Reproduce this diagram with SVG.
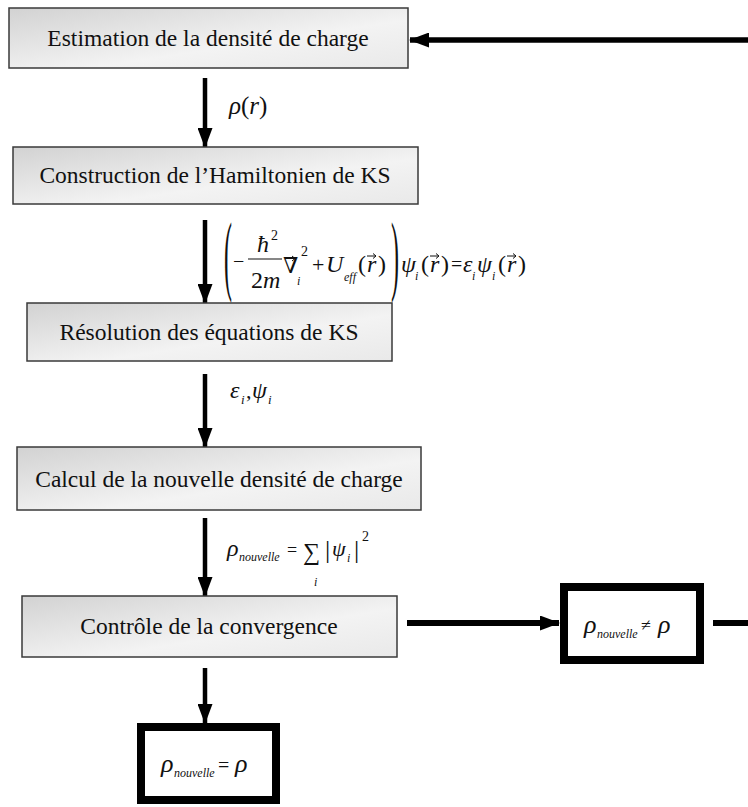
<svg xmlns="http://www.w3.org/2000/svg" width="748" height="807" viewBox="0 0 748 807">
<style>
.box{stroke:#3a3a3a;stroke-width:1.5;fill:url(#g)}
.tb{stroke:#000;stroke-width:8;fill:#fff}
.t{font-size:23.5px;fill:#111;text-anchor:middle}
.m{font-style:italic;fill:#111}
.u{fill:#111}
.c{stroke:#000;fill:none}
.v{stroke:#111;stroke-width:1;fill:none}
</style>
<defs>
<linearGradient id="g" x1="0" y1="0" x2="1" y2="1">
<stop offset="0" stop-color="#d2d2d2"/>
<stop offset="0.6" stop-color="#f3f3f3"/>
<stop offset="1" stop-color="#e9e9e9"/>
</linearGradient>
<marker id="ah" markerUnits="userSpaceOnUse" markerWidth="20" markerHeight="15" refX="19" refY="7.5" orient="auto">
<path d="M0,0 L20,7.5 L0,15 z" fill="#000"/>
</marker>
</defs>

<g font-family="'Liberation Serif', 'Times New Roman', Times, 'DejaVu Serif', 'Noto Serif', serif">
<g id="connectors">
<line class="c" x1="748" y1="40" x2="410" y2="40" stroke-width="5.5" marker-end="url(#ah)"/>
<line class="c" x1="205" y1="78" x2="205" y2="147" stroke-width="4.5" marker-end="url(#ah)"/>
<line class="c" x1="205" y1="220" x2="205" y2="303" stroke-width="4.5" marker-end="url(#ah)"/>
<line class="c" x1="205" y1="374" x2="205" y2="447" stroke-width="4.5" marker-end="url(#ah)"/>
<line class="c" x1="205" y1="518" x2="205" y2="596" stroke-width="4.5" marker-end="url(#ah)"/>
<line class="c" x1="407" y1="623" x2="559" y2="623" stroke-width="6" marker-end="url(#ah)"/>
<line class="c" x1="713" y1="623" x2="748" y2="623" stroke-width="6"/>
<line class="c" x1="205" y1="668" x2="205" y2="723" stroke-width="4.5" marker-end="url(#ah)"/>

<g id="lbl-rho">
<text class="m" x="229" y="114" font-size="25">ρ<tspan font-style="normal">(</tspan>r<tspan font-style="normal">)</tspan></text>
</g>

<g id="lbl-ks">
<text class="u" font-size="24" transform="translate(224,284) scale(1,3.74)">(</text>
<text class="u" x="233" y="268" font-size="20">−</text>
<text class="m" x="257" y="252" font-size="24">ħ</text>
<text class="u" x="271" y="240" font-size="14">2</text>
<line x1="248" y1="259" x2="282" y2="259" stroke="#111" stroke-width="1.2"/>
<text class="u" x="251" y="288" font-size="24">2<tspan font-style="italic">m</tspan></text>
<text class="u" x="283" y="273" font-size="22">∇</text>
<path class="v" d="M285,258.5 h10 M292,256 l3,2.5 l-3,2.5"/>
<text class="m" x="297" y="285" font-size="12">i</text>
<text class="u" x="301" y="256" font-size="14">2</text>
<text class="u" x="312" y="272" font-size="22">+</text>
<text class="m" x="326" y="272" font-size="24">U</text>
<text class="m" x="344" y="281" font-size="12">eff</text>
<text class="u" x="358" y="272" font-size="24">(</text>
<text class="m" x="367" y="272" font-size="24">r</text>
<path class="v" d="M367,256 h9 M373,253.5 l3,2.5 l-3,2.5"/>
<text class="u" x="378" y="272" font-size="24">)</text>
<text class="u" font-size="24" transform="translate(391,284) scale(1,3.74)">)</text>
<text class="m" x="401" y="272" font-size="24">ψ</text>
<text class="m" x="415" y="280" font-size="12">i</text>
<text class="u" x="421" y="272" font-size="24">(</text>
<text class="m" x="430" y="272" font-size="24">r</text>
<path class="v" d="M430,256 h9 M436,253.5 l3,2.5 l-3,2.5"/>
<text class="u" x="441" y="272" font-size="24">)</text>
<text class="u" x="451" y="271" font-size="20">=</text>
<text class="m" x="463" y="272" font-size="24">ε</text>
<text class="m" x="472" y="280" font-size="12">i</text>
<text class="m" x="477" y="272" font-size="24">ψ</text>
<text class="m" x="492" y="280" font-size="12">i</text>
<text class="u" x="498" y="272" font-size="24">(</text>
<text class="m" x="507" y="272" font-size="24">r</text>
<path class="v" d="M507,256 h9 M513,253.5 l3,2.5 l-3,2.5"/>
<text class="u" x="518" y="272" font-size="24">)</text>
</g>

<g id="lbl-eps">
<text class="m" x="230" y="398" font-size="24">ε</text>
<text class="m" x="241" y="404" font-size="13">i</text>
<text class="u" x="246" y="398" font-size="22">,</text>
<text class="m" x="252" y="398" font-size="24">ψ</text>
<text class="m" x="268" y="404" font-size="13">i</text>
</g>

<g id="lbl-sum">
<text class="m" x="227" y="556" font-size="24">ρ</text>
<text class="m" x="239" y="561" font-size="12">nouvelle</text>
<text class="u" x="287" y="556" font-size="18">=</text>
<text class="u" x="303" y="560" font-size="24">∑</text>
<text class="m" x="314" y="586" font-size="12">i</text>
<text class="u" x="325" y="558" font-size="26">|</text>
<text class="m" x="332" y="556" font-size="22">ψ</text>
<text class="m" x="347" y="562" font-size="12">i</text>
<text class="u" x="354" y="558" font-size="26">|</text>
<text class="u" x="362" y="541" font-size="14">2</text>
</g>
</g>

<g id="n1">
<rect class="box" x="9" y="8" width="399" height="60"/>
<text class="t" x="208" y="46">Estimation de la densité de charge</text>
</g>
<g id="n2">
<rect class="box" x="13" y="147" width="405" height="57"/>
<text class="t" x="215" y="183">Construction de l’Hamiltonien de KS</text>
</g>
<g id="n3">
<rect class="box" x="27" y="303" width="365" height="58"/>
<text class="t" x="209" y="340">Résolution des équations de KS</text>
</g>
<g id="n4">
<rect class="box" x="17" y="447" width="404" height="63"/>
<text class="t" x="219" y="487">Calcul de la nouvelle densité de charge</text>
</g>
<g id="n5">
<rect class="box" x="22" y="596" width="375" height="61"/>
<text class="t" x="209" y="634">Contrôle de la convergence</text>
</g>
<g id="n6">
<rect class="tb" x="564" y="587" width="136" height="73"/>
<text class="m" x="584" y="633" font-size="26">ρ</text>
<text class="m" x="597" y="638" font-size="12">nouvelle</text>
<text class="u" x="641" y="631" font-size="18">≠</text>
<text class="m" x="658" y="633" font-size="26">ρ</text>
</g>
<g id="n7">
<rect class="tb" x="141" y="727" width="135" height="73"/>
<text class="m" x="161" y="772" font-size="26">ρ</text>
<text class="m" x="174" y="777" font-size="12">nouvelle</text>
<text class="u" x="218" y="772" font-size="20">=</text>
<text class="m" x="235" y="772" font-size="26">ρ</text>
</g>
</g>
</svg>
